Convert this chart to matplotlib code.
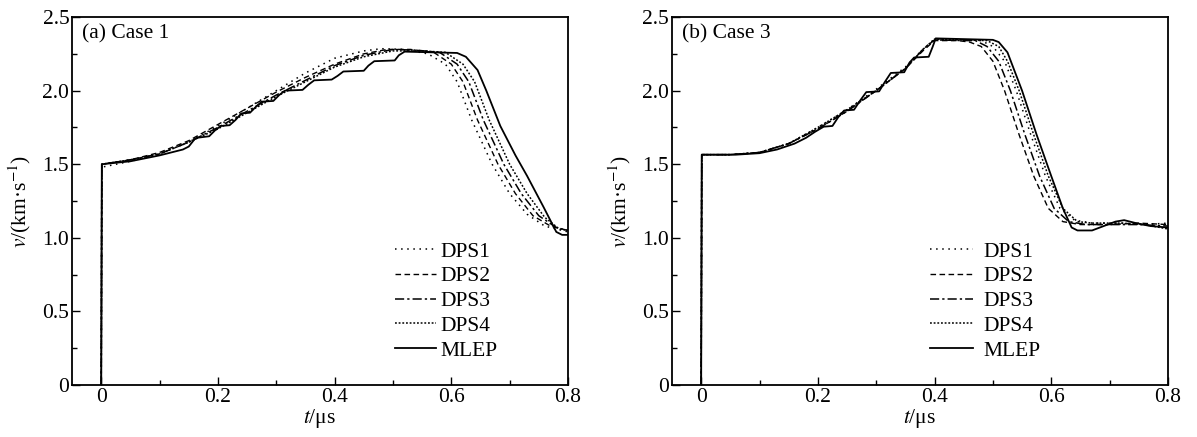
"""
Free-surface velocity histories, Case 1 and Case 3: four DPS variants vs. MLEP.

    python plot.py   # -> out.png
"""

import matplotlib
matplotlib.use("Agg")
import matplotlib.pyplot as plt
from matplotlib.ticker import MultipleLocator

plt.rcParams["font.family"] = ["Liberation Serif", "DejaVu Serif"]
plt.rcParams["mathtext.fontset"] = "stix"

LABELS = ["DPS1", "DPS2", "DPS3", "DPS4", "MLEP"]
STYLES = [(0, (1, 3)), (0, (4, 2.5)), (0, (6, 2, 1.5, 2)), (0, (1.2, 1.2)), "-"]
WIDTHS = [1.1, 1.0, 1.1, 1.1, 1.3]

# ---- Case 1 --------------------------------------------------------------
C1_DPS1_T = [0, 0.001, 0.05, 0.1, 0.15, 0.2, 0.25, 0.3, 0.35, 0.4, 0.45, 0.48, 0.52, 0.56,
             0.59, 0.61, 0.635, 0.67, 0.7, 0.73, 0.76, 0.8]
C1_DPS1_V = [0, 1.48, 1.52, 1.57, 1.65, 1.76, 1.88, 2.0, 2.12, 2.22, 2.27, 2.285, 2.28, 2.25,
             2.18, 2.06, 1.8, 1.5, 1.3, 1.16, 1.08, 1.04]
C1_DPS2_T = [0, 0.001, 0.05, 0.1, 0.15, 0.2, 0.25, 0.3, 0.35, 0.4, 0.45, 0.49, 0.53, 0.57,
             0.6, 0.62, 0.645, 0.68, 0.71, 0.74, 0.77, 0.8]
C1_DPS2_V = [0, 1.5, 1.53, 1.58, 1.66, 1.77, 1.88, 1.99, 2.09, 2.18, 2.25, 2.28, 2.28, 2.26,
             2.18, 2.06, 1.8, 1.5, 1.3, 1.15, 1.08, 1.05]
C1_DPS3_T = [0, 0.001, 0.05, 0.1, 0.15, 0.2, 0.25, 0.3, 0.35, 0.4, 0.45, 0.5, 0.54, 0.58,
             0.61, 0.63, 0.655, 0.69, 0.72, 0.75, 0.78, 0.8]
C1_DPS3_V = [0, 1.5, 1.53, 1.57, 1.65, 1.75, 1.86, 1.97, 2.07, 2.17, 2.24, 2.28, 2.275, 2.26,
             2.18, 2.06, 1.8, 1.5, 1.3, 1.15, 1.07, 1.05]
C1_DPS4_T = [0, 0.001, 0.05, 0.1, 0.15, 0.2, 0.25, 0.3, 0.35, 0.4, 0.45, 0.5, 0.55, 0.59,
             0.62, 0.64, 0.665, 0.7, 0.73, 0.76, 0.785, 0.8]
C1_DPS4_V = [0, 1.5, 1.53, 1.57, 1.65, 1.74, 1.85, 1.96, 2.06, 2.16, 2.23, 2.27, 2.27, 2.26,
             2.18, 2.06, 1.8, 1.5, 1.3, 1.14, 1.06, 1.05]
C1_MLEP_T = [0, 0.001, 0.05, 0.1, 0.14, 0.15, 0.16, 0.165, 0.185, 0.195, 0.205, 0.22, 0.23,
             0.24, 0.255, 0.265, 0.275, 0.295, 0.305, 0.315, 0.345, 0.355, 0.365, 0.395,
             0.405, 0.415, 0.45, 0.458, 0.468, 0.503, 0.51, 0.52, 0.61, 0.625, 0.645, 0.66,
             0.684, 0.71, 0.73, 0.758, 0.78, 0.79, 0.8]
C1_MLEP_V = [0, 1.5, 1.52, 1.56, 1.6, 1.62, 1.67, 1.68, 1.69, 1.73, 1.76, 1.765, 1.8,
             1.845, 1.85, 1.89, 1.925, 1.93, 1.97, 2.0, 2.005, 2.04, 2.07, 2.075,
             2.1, 2.13, 2.135, 2.17, 2.2, 2.205, 2.24, 2.265, 2.256, 2.23, 2.14, 2.0,
             1.76, 1.56, 1.42, 1.21, 1.04, 1.02, 1.02]

# ---- Case 3 --------------------------------------------------------------
C3_DPS1_T = [0, 0.001, 0.05, 0.1, 0.15, 0.2, 0.25, 0.3, 0.35, 0.38, 0.4, 0.45, 0.48, 0.5,
             0.52, 0.54, 0.565, 0.59, 0.615, 0.64, 0.67, 0.72, 0.76, 0.8]
C3_DPS1_V = [0, 1.565, 1.565, 1.58, 1.64, 1.75, 1.87, 2.01, 2.16, 2.28, 2.35, 2.345, 2.34, 2.3,
             2.2, 2.0, 1.7, 1.42, 1.2, 1.12, 1.1, 1.1, 1.09, 1.1]
C3_DPS2_T = [0, 0.001, 0.05, 0.1, 0.15, 0.2, 0.25, 0.3, 0.35, 0.38, 0.4, 0.44, 0.46, 0.48,
             0.5, 0.52, 0.545, 0.57, 0.595, 0.62, 0.65, 0.7, 0.75, 0.8]
C3_DPS2_V = [0, 1.565, 1.565, 1.58, 1.64, 1.74, 1.86, 2.0, 2.15, 2.27, 2.34, 2.34, 2.33, 2.3,
             2.2, 2.0, 1.7, 1.42, 1.2, 1.11, 1.09, 1.09, 1.1, 1.09]
C3_DPS3_T = [0, 0.001, 0.05, 0.1, 0.15, 0.2, 0.25, 0.3, 0.35, 0.38, 0.4, 0.45, 0.47, 0.49,
             0.51, 0.53, 0.555, 0.58, 0.605, 0.63, 0.66, 0.7, 0.75, 0.8]
C3_DPS3_V = [0, 1.565, 1.565, 1.58, 1.64, 1.74, 1.86, 2.0, 2.15, 2.28, 2.345, 2.34, 2.34, 2.3,
             2.2, 2.0, 1.7, 1.42, 1.2, 1.11, 1.09, 1.09, 1.09, 1.08]
C3_DPS4_T = [0, 0.001, 0.05, 0.1, 0.15, 0.2, 0.25, 0.3, 0.35, 0.38, 0.4, 0.45, 0.49, 0.51,
             0.525, 0.545, 0.57, 0.595, 0.62, 0.645, 0.67, 0.72, 0.76, 0.8]
C3_DPS4_V = [0, 1.565, 1.565, 1.58, 1.64, 1.75, 1.87, 2.0, 2.15, 2.28, 2.35, 2.345, 2.34, 2.3,
             2.2, 2.0, 1.7, 1.42, 1.2, 1.11, 1.1, 1.1, 1.09, 1.06]
C3_MLEP_T = [0, 0.001, 0.06, 0.1, 0.13, 0.16, 0.18, 0.195, 0.21, 0.225, 0.235, 0.245, 0.262,
             0.272, 0.283, 0.305, 0.315, 0.325, 0.348, 0.357, 0.365, 0.39, 0.397, 0.402,
             0.5, 0.51, 0.525, 0.55, 0.575, 0.6, 0.62, 0.635, 0.645, 0.67, 0.69, 0.71,
             0.725, 0.745, 0.77, 0.8]
C3_MLEP_V = [0, 1.565, 1.565, 1.575, 1.6, 1.64, 1.68, 1.72, 1.755, 1.76, 1.82, 1.865, 1.87,
             1.93, 1.99, 1.995, 2.06, 2.12, 2.125, 2.19, 2.225, 2.23, 2.3, 2.355,
             2.345, 2.33, 2.26, 2.0, 1.7, 1.42, 1.2, 1.07, 1.05, 1.05, 1.08, 1.11,
             1.12, 1.1, 1.08, 1.07]

# title, series, legend x-anchor (axes frac), handle length, gap between handle and text
PANELS = [
    ("(a) Case 1", [(C1_DPS1_T, C1_DPS1_V), (C1_DPS2_T, C1_DPS2_V), (C1_DPS3_T, C1_DPS3_V),
                    (C1_DPS4_T, C1_DPS4_V), (C1_MLEP_T, C1_MLEP_V)], 0.651, 1.9, 0.22),
    ("(b) Case 3", [(C3_DPS1_T, C3_DPS1_V), (C3_DPS2_T, C3_DPS2_V), (C3_DPS3_T, C3_DPS3_V),
                    (C3_DPS4_T, C3_DPS4_V), (C3_MLEP_T, C3_MLEP_V)], 0.521, 2.0, 0.45),
]

fig = plt.figure(figsize=(11.97, 4.37), dpi=100)
lefts = [0.0602, 0.5614]
for (title, series, lx, hl, pad), left in zip(PANELS, lefts):
    ax = fig.add_axes([left, 0.119, 0.4143, 0.842])
    for (t, v), lab, ls, lw in zip(series, LABELS, STYLES, WIDTHS):
        ax.plot(t, v, color="black", linestyle=ls, lw=lw, label=lab)
    ax.set_xlim(-0.05, 0.8)
    ax.set_ylim(0, 2.5)
    ax.xaxis.set_minor_locator(MultipleLocator(0.1))
    ax.yaxis.set_minor_locator(MultipleLocator(0.25))
    ax.set_yticks([0, 0.5, 1.0, 1.5, 2.0, 2.5])
    ax.set_yticklabels(["0", "0.5", "1.0", "1.5", "2.0", "2.5"])
    ax.set_xticks([0, 0.2, 0.4, 0.6, 0.8])
    ax.set_xticklabels(["0", "0.2", "0.4", "0.6", "0.8"])
    ax.tick_params(which="both", direction="in", labelsize=15.5, pad=2)
    ax.tick_params(which="major", length=6, width=1)
    ax.tick_params(which="minor", length=3.5, width=1)
    for s in ax.spines.values():
        s.set_linewidth(1.3)
    ax.set_xlabel("$t$/μs", fontsize=15.5, labelpad=0)
    ax.set_ylabel("$v$/(km·s$^{-1}$)", fontsize=15.5, labelpad=7)
    ax.text(0.02, 0.953, title, transform=ax.transAxes, fontsize=15.5, va="center", ha="left")
    ax.legend(loc="upper left", bbox_to_anchor=(lx, 0.39), frameon=False, fontsize=15.5,
              handlelength=hl, handletextpad=pad, labelspacing=0.22, borderpad=0,
              borderaxespad=0)

fig.savefig("out.png", dpi=100)
